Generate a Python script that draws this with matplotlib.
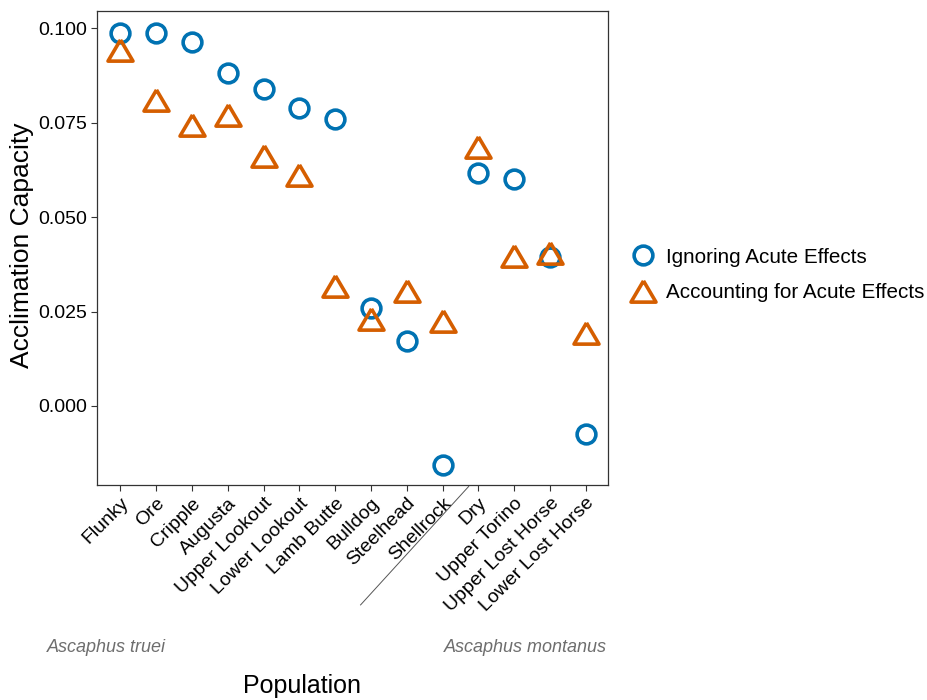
import numpy as np
import matplotlib
matplotlib.use("Agg")
from matplotlib import pyplot as plt
from matplotlib.transforms import blended_transform_factory

plt.rcParams["font.family"] = ["Liberation Sans", "DejaVu Sans"]

populations = ["Flunky", "Ore", "Cripple", "Augusta", "Upper Lookout", "Lower Lookout",
               "Lamb Butte", "Bulldog", "Steelhead", "Shellrock", "Dry", "Upper Torino",
               "Upper Lost Horse", "Lower Lost Horse"]
ignoring = [0.0988, 0.0986, 0.0963, 0.0880, 0.0839, 0.0788, 0.0760,
            0.0258, 0.0173, -0.0156, 0.0616, 0.0601, 0.0393, -0.0074]
accounting = [0.0942, 0.0810, 0.0743, 0.0770, 0.0661, 0.0612, 0.0318,
              0.0230, 0.0304, 0.0225, 0.0685, 0.0397, 0.0405, 0.0193]
yticks = [0.000, 0.025, 0.050, 0.075, 0.100]

blue = "#0072B2"
orange = "#D55E00"
tri = [(0, 0.85), (-1, -0.85), (1, -0.85), (0, 0.85)]

fig = plt.figure(figsize=(9.27, 7), dpi=100)
ax = fig.add_axes([97/927, 215/700, 511/927, 474/700])

x = np.arange(1, len(populations) + 1)
ax.plot(x, ignoring, linestyle="none", marker="o", markersize=13.5, markerfacecolor="none",
        markeredgecolor=blue, markeredgewidth=2.6, label="Ignoring Acute Effects")
ax.plot(x, accounting, linestyle="none", marker=tri, markersize=18, markerfacecolor="none",
        markeredgecolor=orange, markeredgewidth=2.6, label="Accounting for Acute Effects")

ax.set_xlim(0.35, 14.62)
ax.set_ylim(-0.0209, 0.1045)
ax.set_xticks(x)
ax.set_xticklabels(populations, rotation=45, ha="right", rotation_mode="anchor", fontsize=14)
ax.set_yticks(yticks)
ax.set_yticklabels([f"{v:.3f}" for v in yticks], fontsize=14)
ax.tick_params(length=4, color="#333333", width=0.8, pad=3)
for s in ax.spines.values():
    s.set_color("#333333")
    s.set_linewidth(0.9)

fig.text(22/927, (700 - 245)/700, "Acclimation Capacity", fontsize=19,
         rotation=90, ha="center", va="center")
fig.text(302/927, 14/700, "Population", fontsize=18, ha="center", va="center")

# species separator and labels
trans = blended_transform_factory(ax.transData, ax.transAxes)
ax.plot([10.73, 7.71], [-0.003, -0.253], color="#555555", linewidth=0.7,
        transform=trans, clip_on=False)
fig.text(47/927, 53/700, "Ascaphus truei", fontsize=13, style="italic",
         color="#6e6e6e", ha="left", va="center")
fig.text(607/927, 53/700, "Ascaphus montanus", fontsize=13, style="italic",
         color="#6e6e6e", ha="right", va="center")

fig.legend(loc="center left", bbox_to_anchor=(627/927, 425/700), frameon=False,
           fontsize=14.9, handlelength=1.5, handletextpad=0.4, labelspacing=0.8,
           borderaxespad=0, borderpad=0)

fig.savefig("out.png", dpi=100)
